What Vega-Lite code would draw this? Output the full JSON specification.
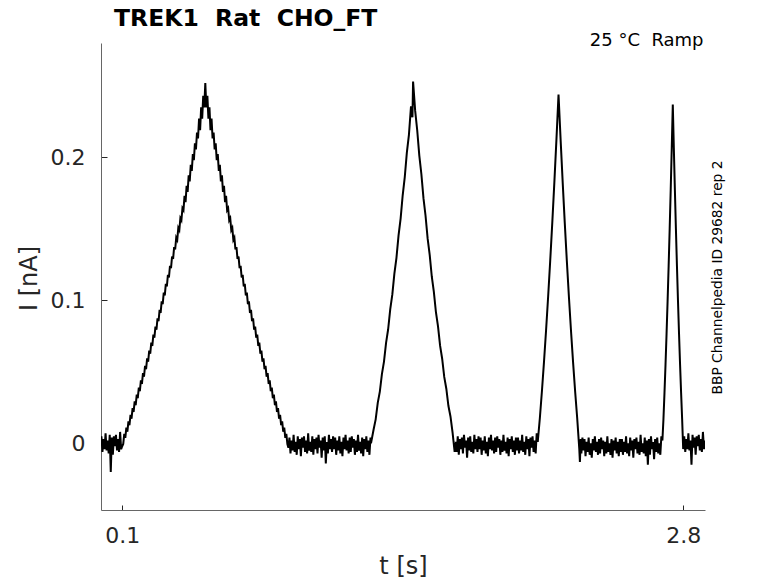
{
"$schema":"https://vega.github.io/schema/vega-lite/v6.json",
"width":604,"height":467,
"autosize":"none",
"padding":{"left":101,"top":43,"right":73,"bottom":73},
"background":"white",
"config":{"view":{"stroke":null},"font":"DejaVu Sans","axis":{"grid":false}},
"title":{"text":"TREK1\u00a0 Rat\u00a0 CHO_FT","anchor":"start","frame":"group","dx":13,"offset":-18,"baseline":"alphabetic","fontSize":23.5,"fontWeight":"bold","color":"#000000","font":"DejaVu Sans"},
"data":{"values":[
{"t":0.000,"i":0.005},{"t":0.005,"i":-0.006},{"t":0.010,"i":0.003},{"t":0.015,"i":-0.004},{"t":0.020,"i":0.007},{"t":0.025,"i":-0.005},{"t":0.030,"i":0.002},{"t":0.035,"i":-0.007},{"t":0.040,"i":0.006},{"t":0.045,"i":-0.020},
{"t":0.050,"i":0.004},{"t":0.055,"i":-0.008},{"t":0.060,"i":0.005},{"t":0.065,"i":-0.002},{"t":0.070,"i":0.006},{"t":0.075,"i":-0.005},{"t":0.080,"i":0.003},{"t":0.085,"i":-0.006},{"t":0.090,"i":0.008},{"t":0.095,"i":-0.004},
{"t":0.100,"i":-0.002},{"t":0.105,"i":-0.0004},{"t":0.110,"i":0.0067},{"t":0.115,"i":0.0039},{"t":0.120,"i":0.0110},{"t":0.125,"i":0.0082},{"t":0.130,"i":0.0154},{"t":0.135,"i":0.0127},{"t":0.140,"i":0.0199},{"t":0.145,"i":0.0173},
{"t":0.150,"i":0.0246},{"t":0.155,"i":0.0220},{"t":0.160,"i":0.0293},{"t":0.165,"i":0.0267},{"t":0.170,"i":0.0341},{"t":0.175,"i":0.0316},{"t":0.180,"i":0.0390},{"t":0.185,"i":0.0365},{"t":0.190,"i":0.0440},{"t":0.195,"i":0.0416},
{"t":0.200,"i":0.0491},{"t":0.205,"i":0.0467},{"t":0.210,"i":0.0542},{"t":0.215,"i":0.0519},{"t":0.220,"i":0.0595},{"t":0.225,"i":0.0572},{"t":0.230,"i":0.0649},{"t":0.235,"i":0.0627},{"t":0.240,"i":0.0704},{"t":0.245,"i":0.0682},
{"t":0.250,"i":0.0760},{"t":0.255,"i":0.0739},{"t":0.260,"i":0.0817},{"t":0.265,"i":0.0796},{"t":0.270,"i":0.0875},{"t":0.275,"i":0.0854},{"t":0.280,"i":0.0933},{"t":0.285,"i":0.0913},{"t":0.290,"i":0.0993},{"t":0.295,"i":0.0974},
{"t":0.300,"i":0.1054},{"t":0.305,"i":0.1035},{"t":0.310,"i":0.1116},{"t":0.315,"i":0.1097},{"t":0.320,"i":0.1178},{"t":0.325,"i":0.1160},{"t":0.330,"i":0.1242},{"t":0.335,"i":0.1225},{"t":0.340,"i":0.1307},{"t":0.345,"i":0.1290},
{"t":0.350,"i":0.1373},{"t":0.355,"i":0.1356},{"t":0.360,"i":0.1439},{"t":0.365,"i":0.1423},{"t":0.370,"i":0.1507},{"t":0.375,"i":0.1491},{"t":0.380,"i":0.1575},{"t":0.385,"i":0.1560},{"t":0.390,"i":0.1645},{"t":0.395,"i":0.1631},
{"t":0.400,"i":0.1731},{"t":0.405,"i":0.1687},{"t":0.410,"i":0.1802},{"t":0.415,"i":0.1759},{"t":0.420,"i":0.1875},{"t":0.425,"i":0.1832},{"t":0.430,"i":0.1948},{"t":0.435,"i":0.1906},{"t":0.440,"i":0.2023},{"t":0.445,"i":0.1981},
{"t":0.450,"i":0.2098},{"t":0.455,"i":0.2056},{"t":0.460,"i":0.2174},{"t":0.465,"i":0.2133},{"t":0.470,"i":0.2272},{"t":0.475,"i":0.2191},{"t":0.480,"i":0.2350},{"t":0.485,"i":0.2270},{"t":0.490,"i":0.2430},{"t":0.495,"i":0.2350},
{"t":0.500,"i":0.2520},
{"t":0.505,"i":0.2350},{"t":0.510,"i":0.2430},{"t":0.515,"i":0.2270},{"t":0.520,"i":0.2350},{"t":0.525,"i":0.2191},{"t":0.530,"i":0.2272},{"t":0.535,"i":0.2133},{"t":0.540,"i":0.2174},{"t":0.545,"i":0.2056},{"t":0.550,"i":0.2098},
{"t":0.555,"i":0.1981},{"t":0.560,"i":0.2023},{"t":0.565,"i":0.1906},{"t":0.570,"i":0.1948},{"t":0.575,"i":0.1832},{"t":0.580,"i":0.1875},{"t":0.585,"i":0.1759},{"t":0.590,"i":0.1802},{"t":0.595,"i":0.1687},{"t":0.600,"i":0.1731},
{"t":0.605,"i":0.1631},{"t":0.610,"i":0.1645},{"t":0.615,"i":0.1560},{"t":0.620,"i":0.1575},{"t":0.625,"i":0.1491},{"t":0.630,"i":0.1507},{"t":0.635,"i":0.1423},{"t":0.640,"i":0.1439},{"t":0.645,"i":0.1356},{"t":0.650,"i":0.1373},
{"t":0.655,"i":0.1290},{"t":0.660,"i":0.1307},{"t":0.665,"i":0.1225},{"t":0.670,"i":0.1242},{"t":0.675,"i":0.1160},{"t":0.680,"i":0.1178},{"t":0.685,"i":0.1097},{"t":0.690,"i":0.1116},{"t":0.695,"i":0.1035},{"t":0.700,"i":0.1054},
{"t":0.705,"i":0.0974},{"t":0.710,"i":0.0993},{"t":0.715,"i":0.0913},{"t":0.720,"i":0.0933},{"t":0.725,"i":0.0854},{"t":0.730,"i":0.0875},{"t":0.735,"i":0.0796},{"t":0.740,"i":0.0817},{"t":0.745,"i":0.0739},{"t":0.750,"i":0.0760},
{"t":0.755,"i":0.0682},{"t":0.760,"i":0.0704},{"t":0.765,"i":0.0627},{"t":0.770,"i":0.0649},{"t":0.775,"i":0.0572},{"t":0.780,"i":0.0595},{"t":0.785,"i":0.0519},{"t":0.790,"i":0.0542},{"t":0.795,"i":0.0467},{"t":0.800,"i":0.0491},
{"t":0.805,"i":0.0416},{"t":0.810,"i":0.0440},{"t":0.815,"i":0.0365},{"t":0.820,"i":0.0390},{"t":0.825,"i":0.0316},{"t":0.830,"i":0.0341},{"t":0.835,"i":0.0267},{"t":0.840,"i":0.0293},{"t":0.845,"i":0.0220},{"t":0.850,"i":0.0246},
{"t":0.855,"i":0.0173},{"t":0.860,"i":0.0199},{"t":0.865,"i":0.0127},{"t":0.870,"i":0.0154},{"t":0.875,"i":0.0082},{"t":0.880,"i":0.0110},{"t":0.885,"i":0.0039},{"t":0.890,"i":0.0067},{"t":0.895,"i":-0.0004},{"t":0.900,"i":-0.003},
{"t":0.905,"i":0.004},{"t":0.910,"i":-0.007},{"t":0.915,"i":0.002},{"t":0.920,"i":-0.005},{"t":0.925,"i":0.006},{"t":0.930,"i":-0.006},{"t":0.935,"i":0.001},{"t":0.940,"i":-0.008},{"t":0.945,"i":0.005},{"t":0.950,"i":-0.004},
{"t":0.955,"i":0.003},{"t":0.960,"i":-0.009},{"t":0.965,"i":0.004},{"t":0.970,"i":-0.003},{"t":0.975,"i":0.005},{"t":0.980,"i":-0.006},{"t":0.985,"i":0.002},{"t":0.990,"i":-0.007},{"t":0.995,"i":0.007},{"t":1.000,"i":-0.005},
{"t":1.005,"i":0.001},{"t":1.010,"i":-0.006},{"t":1.015,"i":0.005},{"t":1.020,"i":-0.008},{"t":1.025,"i":0.003},{"t":1.030,"i":-0.004},{"t":1.035,"i":0.004},{"t":1.040,"i":-0.007},{"t":1.045,"i":0.006},{"t":1.050,"i":-0.003},
{"t":1.055,"i":0.002},{"t":1.060,"i":-0.010},{"t":1.065,"i":0.004},{"t":1.070,"i":-0.005},{"t":1.075,"i":0.005},{"t":1.080,"i":-0.014},{"t":1.085,"i":0.001},{"t":1.090,"i":-0.007},{"t":1.095,"i":0.006},{"t":1.100,"i":-0.004},
{"t":1.105,"i":0.003},{"t":1.110,"i":-0.006},{"t":1.115,"i":0.005},{"t":1.120,"i":-0.004},{"t":1.125,"i":0.004},{"t":1.130,"i":-0.008},{"t":1.135,"i":0.002},{"t":1.140,"i":-0.005},{"t":1.145,"i":0.005},{"t":1.150,"i":-0.007},
{"t":1.155,"i":0.001},{"t":1.160,"i":-0.009},{"t":1.165,"i":0.004},{"t":1.170,"i":-0.004},{"t":1.175,"i":0.006},{"t":1.180,"i":-0.005},{"t":1.185,"i":0.002},{"t":1.190,"i":-0.007},{"t":1.195,"i":0.004},{"t":1.200,"i":-0.006},
{"t":1.205,"i":0.005},{"t":1.210,"i":-0.003},{"t":1.215,"i":0.003},{"t":1.220,"i":-0.008},{"t":1.225,"i":0.002},{"t":1.230,"i":-0.006},{"t":1.235,"i":0.006},{"t":1.240,"i":-0.005},{"t":1.245,"i":0.001},{"t":1.250,"i":-0.007},
{"t":1.255,"i":0.004},{"t":1.260,"i":-0.009},{"t":1.265,"i":0.003},{"t":1.270,"i":-0.004},{"t":1.275,"i":0.005},{"t":1.280,"i":-0.006},{"t":1.285,"i":0.002},{"t":1.290,"i":-0.008},{"t":1.295,"i":0.004},{"t":1.300,"i":0.002},
{"t":1.31,"i":0.0097},{"t":1.32,"i":0.0168},{"t":1.33,"i":0.0283},{"t":1.34,"i":0.0362},{"t":1.35,"i":0.0485},{"t":1.36,"i":0.0572},{"t":1.37,"i":0.0703},{"t":1.38,"i":0.0798},{"t":1.39,"i":0.0937},{"t":1.40,"i":0.1040},
{"t":1.41,"i":0.1187},{"t":1.42,"i":0.1298},{"t":1.43,"i":0.1453},{"t":1.44,"i":0.1572},{"t":1.45,"i":0.1735},{"t":1.46,"i":0.1862},{"t":1.47,"i":0.2033},{"t":1.48,"i":0.2158},{"t":1.49,"i":0.2357},{"t":1.497,"i":0.228},{"t":1.50,"i":0.253},
{"t":1.51,"i":0.2327},{"t":1.52,"i":0.2188},{"t":1.53,"i":0.2013},{"t":1.54,"i":0.1882},{"t":1.55,"i":0.1715},{"t":1.56,"i":0.1592},{"t":1.57,"i":0.1433},{"t":1.58,"i":0.1318},{"t":1.59,"i":0.1167},{"t":1.60,"i":0.1060},
{"t":1.61,"i":0.0917},{"t":1.62,"i":0.0818},{"t":1.63,"i":0.0683},{"t":1.64,"i":0.0592},{"t":1.65,"i":0.0465},{"t":1.66,"i":0.0382},{"t":1.67,"i":0.0263},{"t":1.68,"i":0.0188},{"t":1.69,"i":0.0077},{"t":1.70,"i":-0.006},
{"t":1.705,"i":0.001},{"t":1.710,"i":-0.006},{"t":1.715,"i":0.005},{"t":1.720,"i":-0.008},{"t":1.725,"i":0.003},{"t":1.730,"i":-0.004},{"t":1.735,"i":0.004},{"t":1.740,"i":-0.007},{"t":1.745,"i":0.006},{"t":1.750,"i":-0.003},
{"t":1.755,"i":0.002},{"t":1.760,"i":-0.010},{"t":1.765,"i":0.004},{"t":1.770,"i":-0.005},{"t":1.775,"i":0.005},{"t":1.780,"i":-0.006},{"t":1.785,"i":0.001},{"t":1.790,"i":-0.007},{"t":1.795,"i":0.006},{"t":1.800,"i":-0.004},
{"t":1.805,"i":0.003},{"t":1.810,"i":-0.006},{"t":1.815,"i":0.005},{"t":1.820,"i":-0.004},{"t":1.825,"i":0.004},{"t":1.830,"i":-0.008},{"t":1.835,"i":0.002},{"t":1.840,"i":-0.005},{"t":1.845,"i":0.005},{"t":1.850,"i":-0.007},
{"t":1.855,"i":0.001},{"t":1.860,"i":-0.009},{"t":1.865,"i":0.004},{"t":1.870,"i":-0.004},{"t":1.875,"i":0.006},{"t":1.880,"i":-0.005},{"t":1.885,"i":0.002},{"t":1.890,"i":-0.007},{"t":1.895,"i":0.004},{"t":1.900,"i":-0.006},
{"t":1.905,"i":0.005},{"t":1.910,"i":-0.003},{"t":1.915,"i":0.003},{"t":1.920,"i":-0.008},{"t":1.925,"i":0.002},{"t":1.930,"i":-0.006},{"t":1.935,"i":0.006},{"t":1.940,"i":-0.005},{"t":1.945,"i":0.001},{"t":1.950,"i":-0.007},
{"t":1.955,"i":0.004},{"t":1.960,"i":-0.009},{"t":1.965,"i":0.003},{"t":1.970,"i":-0.004},{"t":1.975,"i":0.005},{"t":1.980,"i":-0.006},{"t":1.985,"i":0.002},{"t":1.990,"i":-0.008},{"t":1.995,"i":0.004},{"t":2.000,"i":-0.005},
{"t":2.005,"i":0.004},{"t":2.010,"i":-0.007},{"t":2.015,"i":0.002},{"t":2.020,"i":-0.005},{"t":2.025,"i":0.006},{"t":2.030,"i":-0.006},{"t":2.035,"i":0.001},{"t":2.040,"i":-0.008},{"t":2.045,"i":0.005},{"t":2.050,"i":-0.004},
{"t":2.055,"i":0.003},{"t":2.060,"i":-0.009},{"t":2.065,"i":0.004},{"t":2.070,"i":-0.003},{"t":2.075,"i":0.005},{"t":2.080,"i":-0.006},{"t":2.085,"i":0.002},{"t":2.090,"i":-0.007},{"t":2.095,"i":0.007},{"t":2.100,"i":0.001},
{"t":2.11,"i":0.0174},{"t":2.12,"i":0.0363},{"t":2.13,"i":0.0568},{"t":2.14,"i":0.0789},{"t":2.15,"i":0.1025},{"t":2.16,"i":0.1277},{"t":2.17,"i":0.1544},{"t":2.18,"i":0.1827},{"t":2.19,"i":0.2126},{"t":2.20,"i":0.244},
{"t":2.21,"i":0.2126},{"t":2.22,"i":0.1827},{"t":2.23,"i":0.1544},{"t":2.24,"i":0.1277},{"t":2.25,"i":0.1025},{"t":2.26,"i":0.0789},{"t":2.27,"i":0.0568},{"t":2.28,"i":0.0363},{"t":2.29,"i":0.0174},{"t":2.30,"i":-0.004},{"t":2.303,"i":-0.013},{"t":2.307,"i":0.003},
{"t":2.310,"i":-0.007},{"t":2.315,"i":0.004},{"t":2.320,"i":-0.005},{"t":2.325,"i":0.003},{"t":2.330,"i":-0.009},{"t":2.335,"i":0.001},{"t":2.340,"i":-0.006},{"t":2.345,"i":0.004},{"t":2.350,"i":-0.008},{"t":2.355,"i":0.000},
{"t":2.360,"i":-0.010},{"t":2.365,"i":0.003},{"t":2.370,"i":-0.005},{"t":2.375,"i":0.005},{"t":2.380,"i":-0.006},{"t":2.385,"i":0.001},{"t":2.390,"i":-0.008},{"t":2.395,"i":0.003},{"t":2.400,"i":-0.007},{"t":2.405,"i":0.004},
{"t":2.410,"i":-0.004},{"t":2.415,"i":0.002},{"t":2.420,"i":-0.009},{"t":2.425,"i":0.001},{"t":2.430,"i":-0.007},{"t":2.435,"i":0.005},{"t":2.440,"i":-0.006},{"t":2.445,"i":0.000},{"t":2.450,"i":-0.008},{"t":2.455,"i":0.003},
{"t":2.460,"i":-0.010},{"t":2.465,"i":0.002},{"t":2.470,"i":-0.005},{"t":2.475,"i":0.004},{"t":2.480,"i":-0.007},{"t":2.485,"i":0.001},{"t":2.490,"i":-0.009},{"t":2.495,"i":0.003},{"t":2.500,"i":-0.006},{"t":2.505,"i":0.003},
{"t":2.510,"i":-0.008},{"t":2.515,"i":0.001},{"t":2.520,"i":-0.006},{"t":2.525,"i":0.005},{"t":2.530,"i":-0.007},{"t":2.535,"i":0.000},{"t":2.540,"i":-0.009},{"t":2.545,"i":0.004},{"t":2.550,"i":-0.005},{"t":2.555,"i":0.002},
{"t":2.560,"i":-0.010},{"t":2.565,"i":0.003},{"t":2.570,"i":-0.004},{"t":2.575,"i":0.004},{"t":2.580,"i":-0.007},{"t":2.585,"i":0.001},{"t":2.590,"i":-0.008},{"t":2.595,"i":0.006},{"t":2.600,"i":-0.006},{"t":2.605,"i":0.000},
{"t":2.610,"i":-0.007},{"t":2.615,"i":0.004},{"t":2.620,"i":-0.009},{"t":2.625,"i":0.002},{"t":2.630,"i":-0.015},{"t":2.635,"i":0.003},{"t":2.640,"i":-0.008},{"t":2.645,"i":0.005},{"t":2.650,"i":-0.004},{"t":2.655,"i":0.001},
{"t":2.660,"i":-0.011},{"t":2.665,"i":0.003},{"t":2.670,"i":-0.006},{"t":2.675,"i":0.004},{"t":2.680,"i":-0.007},{"t":2.685,"i":0.000},{"t":2.690,"i":-0.008},{"t":2.695,"i":0.005},{"t":2.700,"i":0.002},
{"t":2.705,"i":0.0169},{"t":2.71,"i":0.0353},{"t":2.715,"i":0.0552},{"t":2.72,"i":0.0766},{"t":2.725,"i":0.0995},{"t":2.73,"i":0.124},{"t":2.735,"i":0.150},{"t":2.74,"i":0.1775},{"t":2.745,"i":0.2065},{"t":2.75,"i":0.237},
{"t":2.755,"i":0.2065},{"t":2.76,"i":0.1775},{"t":2.765,"i":0.150},{"t":2.77,"i":0.124},{"t":2.775,"i":0.0995},{"t":2.78,"i":0.0766},{"t":2.785,"i":0.0552},{"t":2.79,"i":0.0353},{"t":2.795,"i":0.0169},{"t":2.80,"i":-0.004},
{"t":2.805,"i":0.005},{"t":2.810,"i":-0.006},{"t":2.815,"i":0.003},{"t":2.820,"i":-0.004},{"t":2.825,"i":0.007},{"t":2.830,"i":-0.005},{"t":2.835,"i":0.002},{"t":2.840,"i":-0.015},{"t":2.845,"i":0.006},{"t":2.850,"i":-0.003},
{"t":2.855,"i":0.004},{"t":2.860,"i":-0.008},{"t":2.865,"i":0.005},{"t":2.870,"i":-0.002},{"t":2.875,"i":0.006},{"t":2.880,"i":-0.005},{"t":2.885,"i":0.003},{"t":2.890,"i":-0.006},{"t":2.895,"i":0.008},{"t":2.900,"i":-0.004},{"t":2.905,"i":0.002}
]},
"layer":[
{"mark":{"type":"line","color":"#000000","strokeWidth":2,"clip":true},
 "encoding":{
  "x":{"field":"t","type":"quantitative","scale":{"domain":[-0.002,2.905],"nice":false,"zero":false},
       "axis":{"values":[0.1,2.8],"format":".1f","title":"t [s]","labelFontSize":22,"labelColor":"#262626","labelPadding":20,"labelFlush":false,"tickSize":-5,"tickColor":"#262626","domainColor":"#666666","titleFontSize":24,"titleFontWeight":"normal","titleColor":"#262626","titleX":302,"titleY":56,"titleAlign":"center","titleBaseline":"middle"}},
  "y":{"field":"i","type":"quantitative","scale":{"domain":[-0.0466,0.28],"nice":false,"zero":false},
       "axis":{"values":[0,0.1,0.2],"format":".1~f","title":"I [nA]","labelFontSize":22,"labelColor":"#262626","labelPadding":22,"labelFlush":false,"tickSize":-6,"tickColor":"#262626","domainColor":"#666666","titleFontSize":24,"titleFontWeight":"normal","titleColor":"#262626","titleX":-72,"titleY":235,"titleAlign":"center","titleBaseline":"middle"}}
 }},
{"mark":{"type":"line","strokeOpacity":0},
 "encoding":{
  "x":{"field":"t","type":"quantitative","axis":{"orient":"top","title":"25 °C\u00a0 Ramp","domain":false,"ticks":false,"labels":false,"titleFontSize":18,"titleFontWeight":"normal","titleColor":"#000000","titleX":602,"titleY":2,"titleAlign":"right","titleBaseline":"alphabetic"}},
  "y":{"field":"i","type":"quantitative","axis":{"orient":"right","title":"BBP Channelpedia ID 29682 rep 2","domain":false,"ticks":false,"labels":false,"titleFontSize":13.8,"titleFontWeight":"normal","titleColor":"#000000","titleAngle":270,"titleX":12,"titleY":234,"titleAlign":"center","titleBaseline":"middle"}}
 }}
],
"resolve":{"axis":{"x":"independent","y":"independent"}}
}
